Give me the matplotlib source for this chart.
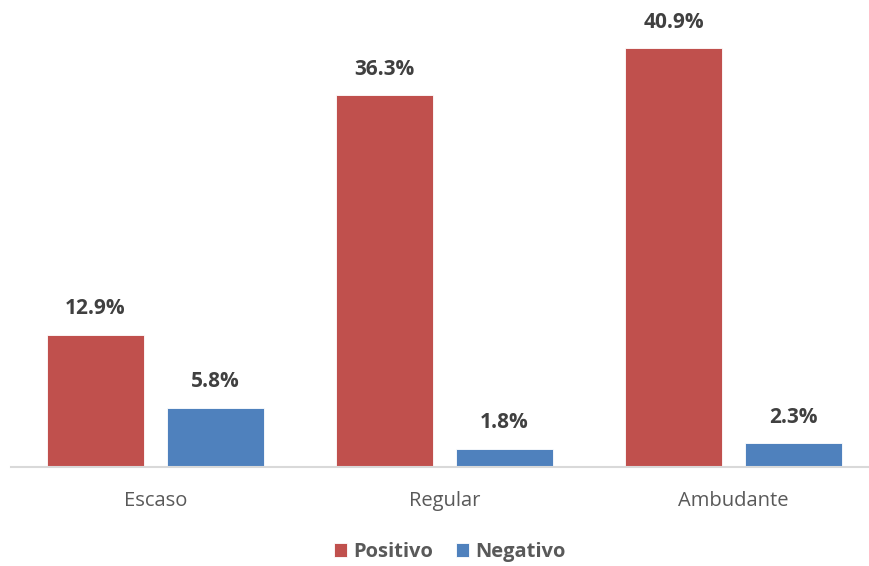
import matplotlib.pyplot as plt
import numpy as np

categorias = ['Escaso', 'Regular', 'Ambudante']
positivo = [12.9, 36.3, 40.9]
negativo = [5.8, 1.8, 2.3]
series = ['Positivo', 'Negativo']
colores = ['#C0504D', '#4F81BD']

plt.rcParams['font.family'] = ['Open Sans', 'DejaVu Sans']

fig = plt.figure(figsize=(8.69, 5.66), dpi=100)
ax = fig.add_axes([11 / 869, 99 / 566, 867 / 869, 461 / 566])

x = np.arange(len(categorias))
ancho = 0.336
desp = 0.2076
for vals, col, nombre, d in zip([positivo, negativo], colores, series, [-desp, desp]):
    barras = ax.bar(x + d, vals, ancho, color=col, label=nombre,
                    edgecolor='white', linewidth=0.6)
    for b, v in zip(barras, vals):
        ax.annotate(f'{v:.1f}%', (b.get_x() + b.get_width() / 2, v),
                    xytext=(0, 26), textcoords='offset pixels',
                    ha='center', va='center', fontsize=15,
                    fontweight='bold', color='#404040')

ax.set_xlim(-0.5, 2.5)
ax.set_ylim(0, 45)
ax.set_yticks([])
ax.set_xticks(x)
ax.set_xticklabels(categorias, fontsize=14.5, color='#595959')
ax.tick_params(axis='x', length=0, pad=17)
for s in ['top', 'right', 'left']:
    ax.spines[s].set_visible(False)
ax.spines['bottom'].set_color('#D9D9D9')
ax.spines['bottom'].set_linewidth(1.5)

leg = fig.legend(loc='center', bbox_to_anchor=(450 / 869, 1 - 552 / 566), ncol=2,
                 frameon=False, handlelength=0.65, handleheight=0.65,
                 handletextpad=0.3, columnspacing=1.15,
                 prop={'size': 14.5, 'weight': 'bold'})
for t in leg.get_texts():
    t.set_color('#595959')

fig.savefig('out.png', dpi=100)
